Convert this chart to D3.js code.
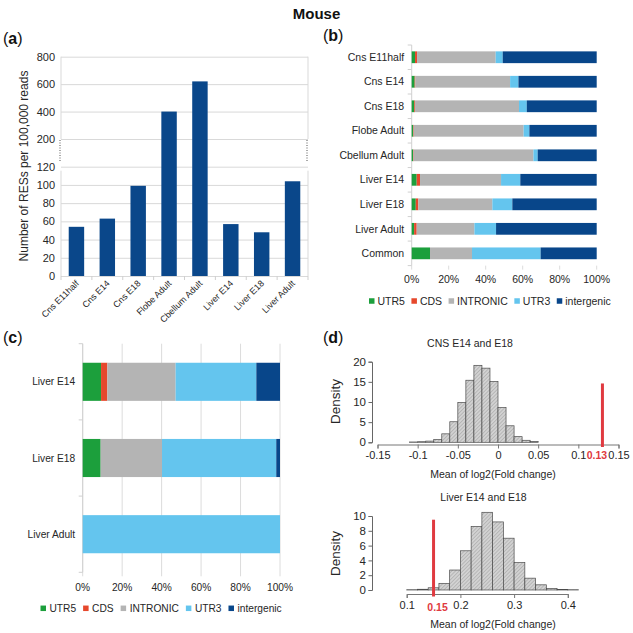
<!DOCTYPE html>
<html><head><meta charset="utf-8">
<script src="https://cdn.jsdelivr.net/npm/d3@7"></script>
<style>
html,body{margin:0;padding:0;background:#fff;}
svg{display:block;}
text{font-family:"Liberation Sans", Arial, sans-serif;}
</style></head><body>
<svg id="chart" width="633" height="633"></svg>
<script>
// ---------------- DATA ----------------
const figureTitle = "Mouse";

// (a)
const aCategories = ["Cns E11half","Cns E14","Cns E18","Flobe Adult","Cbellum Adult","Liver E14","Liver E18","Liver Adult"];
const aValues = [54, 63, 99, 400, 620, 57, 48, 104];
const aTicks = [0,20,40,60,80,100,120,200,400,600,800];
const aYLabel = "Number of RESs per 100,000 reads";

// region types (b, c)
const regionTypes = ["UTR5","CDS","INTRONIC","UTR3","intergenic"];
const regionColors = ["#1c9f3c","#e6482c","#b4b4b4","#64c5ee","#08468a"];
const pctTicks = [0,20,40,60,80,100];

// (b)
const bCategories = ["Cns E11half","Cns E14","Cns E18","Flobe Adult","Cbellum Adult","Liver E14","Liver E18","Liver Adult","Common"];
const bUTR5       = [1.8, 1.6, 1.4, 0.8, 0.7, 2.7, 2.2, 1.3, 9.9];
const bCDS        = [1.1, 0.4, 0.4, 0.3, 0.3, 1.8, 1.4, 1.4, 0.0];
const bINTRONIC   = [42.5, 51.2, 56.2, 59.4, 64.8, 43.8, 40.0, 31.2, 22.7];
const bUTR3       = [3.8, 4.5, 4.2, 3.1, 2.3, 10.4, 10.8, 11.7, 37.1];
const bIntergenic = [50.8, 42.3, 37.8, 36.4, 31.9, 41.3, 45.6, 54.4, 30.3];

// (c)
const cCategories = ["Liver E14","Liver E18","Liver Adult"];
const cUTR5       = [9.3, 9.1, 0];
const cCDS        = [3.2, 0, 0];
const cINTRONIC   = [34.6, 31.1, 0];
const cUTR3       = [40.9, 57.9, 100];
const cIntergenic = [12.0, 1.9, 0];

// (d) top
const cnsTitle = "CNS E14 and E18";
const cnsBinStarts = [-0.11,-0.10,-0.09,-0.08,-0.07,-0.06,-0.05,-0.04,-0.03,-0.02,-0.01,0.00,0.01,0.02,0.03,0.04];
const cnsBinWidth = 0.01;
const cnsDensity = [0.08,0.15,0.3,0.7,2.1,5.1,9.9,15.4,19.1,18.4,15.1,8.6,4.1,1.4,0.5,0.2];
const cnsXTicks = [-0.15,-0.1,-0.05,0,0.05,0.1,0.15];
const cnsYTicks = [0,5,10,15,20];
const cnsObserved = 0.13, cnsObservedLabel = "0.13", cnsObservedHeight = 14.6;

// (d) bottom
const liverTitle = "Liver E14 and E18";
const liverBinStarts = [0.10,0.12,0.14,0.16,0.18,0.20,0.22,0.24,0.26,0.28,0.30,0.32,0.34,0.36,0.38,0.40];
const liverBinWidth = 0.02;
const liverDensity = [0.04,0.1,0.3,0.9,2.7,5.3,8.6,10.5,9.2,7.0,3.7,1.6,0.7,0.2,0.08,0.04];
const liverXTicks = [0.1,0.2,0.3,0.4];
const liverYTicks = [0,2,4,6,8,10];
const liverObserved = 0.15, liverObservedLabel = "0.15", liverObservedHeight = 9.5;

const dXLabel = "Mean of log2(Fold change)";
const dYLabel = "Density";

// ---------------- DRAWING ----------------
const svg = d3.select("#chart");
const FONT = '"Liberation Sans", Arial, sans-serif';
const TXT = "#262626";

svg.append("text").attr("x", 316.5).attr("y", 18.5).attr("text-anchor","middle")
  .attr("font-size", 15).attr("font-weight","bold").attr("fill","#111").text(figureTitle);

function panelLabel(x, y, letter){
  const t = svg.append("text").attr("x", x).attr("y", y).attr("font-size", 16).attr("fill","#111");
  t.append("tspan").text("(");
  t.append("tspan").attr("font-weight","bold").text(letter);
  t.append("tspan").text(")");
}
panelLabel(3, 43.5, "a");
panelLabel(323, 41, "b");
panelLabel(3, 342.5, "c");
panelLabel(323, 342.5, "d");

// ===== (a) =====
(function(){
  const g = svg.append("g");
  const x0 = 61, x1 = 308;
  const y = d3.scaleLinear().domain([0,120,200,800]).range([276,166.7,139,56.7]);
  const x = d3.scaleBand().domain(aCategories).range([x0,x1]).paddingInner(0.5).paddingOuter(0.25);

  const ax = g.append("g").attr("transform", `translate(${x0},0)`)
    .call(d3.axisLeft(y).tickValues(aTicks).tickSize(-(x1-x0)).tickPadding(6).tickFormat(d3.format("d")));
  ax.select(".domain").remove();
  ax.selectAll("line").attr("stroke","#d9d9d9");
  ax.selectAll("text").attr("font-size",11).attr("fill",TXT).attr("font-family",FONT);

  [x0, x1].forEach(xx=>{
    g.append("line").attr("x1",xx).attr("x2",xx).attr("y1",y(800)).attr("y2",y(200)).attr("stroke","#d9d9d9");
    g.append("line").attr("x1",xx).attr("x2",xx).attr("y1",y(120)+4).attr("y2",y(0)).attr("stroke","#d9d9d9");
    g.append("line").attr("x1",xx-1).attr("x2",xx-1).attr("y1",y(200)+1).attr("y2",y(120)-5)
      .attr("stroke","#555").attr("stroke-dasharray","1,1.5");
  });
  d3.range(aCategories.length+1).forEach(i=>{
    const xx = x0 + i*x.step();
    g.append("line").attr("x1",xx).attr("x2",xx).attr("y1",y(0)).attr("y2",y(0)+4).attr("stroke","#cfcfcf");
  });

  g.selectAll("rect.bar").data(aValues).join("rect")
    .attr("x",(d,i)=>x(aCategories[i])).attr("width",x.bandwidth())
    .attr("y",d=>y(d)).attr("height",d=>y(0)-y(d)).attr("fill","#0a478a");

  g.selectAll("text.cat").data(aCategories).join("text")
    .attr("transform", d=>`translate(${x(d)+x.bandwidth()/2+3},${y(0)+8}) rotate(-45)`)
    .attr("text-anchor","end").attr("font-size",9).attr("fill",TXT).text(d=>d);

  g.append("text").attr("transform",`translate(28,166) rotate(-90)`).attr("text-anchor","middle")
    .attr("font-size",12).attr("fill",TXT).text(aYLabel);
})();

// ===== stacked bar helper =====
function stackedPanel(cfg){
  const g = svg.append("g");
  const table = cfg.categories.map((c,i)=>{
    const o = {category:c};
    regionTypes.forEach((k,j)=>{ o[k] = cfg.series[j][i]; });
    return o;
  });
  const x = d3.scaleLinear().domain([0,100]).range([cfg.x0,cfg.x1]);
  const y = d3.scaleBand().domain(cfg.categories).range([cfg.y0,cfg.y1]).paddingInner(cfg.pad).paddingOuter(cfg.pad/2);

  if (cfg.grid){
    g.selectAll("line.grid").data(pctTicks).join("line")
      .attr("x1",d=>x(d)).attr("x2",d=>x(d)).attr("y1",cfg.y0).attr("y2",cfg.y1+4).attr("stroke","#dcdcdc");
  } else {
    g.selectAll("line.grid").data(pctTicks).join("line")
      .attr("x1",d=>x(d)).attr("x2",d=>x(d)).attr("y1",cfg.y1).attr("y2",cfg.y1+4).attr("stroke","#dcdcdc");
  }
  g.append("line").attr("x1",cfg.x0).attr("x2",cfg.x0).attr("y1",cfg.y0).attr("y2",cfg.y1).attr("stroke","#d0d0d0");
  d3.range(cfg.categories.length+1).forEach(i=>{
    const yy = cfg.y0 + i*y.step();
    g.append("line").attr("x1",cfg.x0-4).attr("x2",cfg.x0).attr("y1",yy).attr("y2",yy).attr("stroke","#d0d0d0");
  });

  const stacked = d3.stack().keys(regionTypes)(table);
  stacked.forEach((layer,j)=>{
    g.selectAll(null).data(layer).join("rect")
      .attr("x",d=>x(d[0])).attr("width",d=>Math.max(0,x(d[1])-x(d[0])))
      .attr("y",d=>y(d.data.category)).attr("height",y.bandwidth())
      .attr("fill",regionColors[j]);
  });

  g.selectAll("text.cat").data(cfg.categories).join("text")
    .attr("x",cfg.x0-7.5).attr("y",d=>y(d)+y.bandwidth()/2).attr("dy","0.35em")
    .attr("text-anchor","end").attr("font-size",cfg.fs).attr("fill",TXT).text(d=>d);

  g.selectAll("text.pct").data(pctTicks).join("text")
    .attr("x",d=>x(d)).attr("y",cfg.tickY).attr("text-anchor","middle")
    .attr("font-size",cfg.fs).attr("fill",TXT).text(d=>d+"%");

  let lx = cfg.legX;
  regionTypes.forEach((k,j)=>{
    g.append("rect").attr("x",lx).attr("y",cfg.legY-2.75).attr("width",5.5).attr("height",5.5).attr("fill",regionColors[j]);
    const t = g.append("text").attr("x",lx+5.5+cfg.legGap).attr("y",cfg.legY).attr("dy","0.36em")
      .attr("font-size",cfg.fs).attr("fill",TXT).text(k);
    lx += 5.5 + cfg.legGap + t.node().getComputedTextLength() + cfg.legSpace;
  });
}

stackedPanel({categories:bCategories, series:[bUTR5,bCDS,bINTRONIC,bUTR3,bIntergenic],
  x0:411.7, x1:596.7, y0:45, y1:265.6, pad:0.52, grid:false, fs:10.5, tickY:283,
  legX:369, legY:301, legGap:3, legSpace:6.5});

stackedPanel({categories:cCategories, series:[cUTR5,cCDS,cINTRONIC,cUTR3,cIntergenic],
  x0:82.7, x1:280, y0:343.7, y1:572.3, pad:0.5, grid:true, fs:10.2, tickY:590.5,
  legX:40.5, legY:608.3, legGap:3.5, legSpace:7});

// ===== (d) histograms =====
const defs = svg.append("defs");
const pat = defs.append("pattern").attr("id","hatch").attr("patternUnits","userSpaceOnUse")
  .attr("width",2.6).attr("height",2.6).attr("patternTransform","rotate(45)");
pat.append("rect").attr("width",2.6).attr("height",2.6).attr("fill","#d2d2d2");
pat.append("line").attr("x1",0).attr("y1",0).attr("x2",0).attr("y2",2.6).attr("stroke","#8f8f8f").attr("stroke-width",0.8);

function histPanel(cfg){
  const g = svg.append("g");
  const x = d3.scaleLinear().domain(cfg.xDom).range(cfg.xRange);
  const y = d3.scaleLinear().domain(cfg.yDom).range(cfg.yRange);

  g.append("text").attr("x",cfg.titleX).attr("y",cfg.titleY).attr("text-anchor","middle")
    .attr("font-size",10.5).attr("fill",TXT).text(cfg.title);

  g.selectAll("rect.bin").data(cfg.density).join("rect")
    .attr("x",(d,i)=>x(cfg.starts[i])).attr("width",(d,i)=>x(cfg.starts[i]+cfg.width)-x(cfg.starts[i]))
    .attr("y",d=>y(d)).attr("height",d=>y(0)-y(d))
    .attr("fill","url(#hatch)").attr("stroke","#4a4a4a").attr("stroke-width",0.7);

  const ya = g.append("g").attr("transform",`translate(${cfg.yAxisX},0)`)
    .call(d3.axisLeft(y).tickValues(cfg.yTicks).tickSize(3.5).tickPadding(2.5).tickFormat(d3.format("d")));
  ya.select(".domain").attr("stroke","#666");
  ya.selectAll("line").attr("stroke","#666");
  ya.selectAll("text").attr("font-size",11.5).attr("fill",TXT).attr("font-family",FONT);

  const xa = g.append("g").attr("transform",`translate(0,${cfg.xAxisY})`)
    .call(d3.axisBottom(x).tickValues(cfg.xTicks).tickSize(4).tickPadding(3).tickFormat(d=>String(+d.toFixed(2))));
  xa.select(".domain").attr("stroke","#777");
  xa.selectAll("line").attr("stroke","#777");
  xa.selectAll("text").attr("font-size",11).attr("fill",TXT).attr("font-family",FONT);

  g.append("line").attr("x1",x(cfg.obs)).attr("x2",x(cfg.obs))
    .attr("y1",y(cfg.obsH)).attr("y2",cfg.xAxisY+2.5)
    .attr("stroke","#e03a40").attr("stroke-width",3);
  g.append("text").attr("x",x(cfg.obs)+cfg.obsLabelDx).attr("y",cfg.obsLabelY).attr("text-anchor","middle")
    .attr("font-size",10.5).attr("font-weight","bold").attr("fill","#e03a40").text(cfg.obsLabel);

  g.append("text").attr("x",cfg.xLabelX).attr("y",cfg.xLabelY).attr("text-anchor","middle")
    .attr("font-size",10.5).attr("fill",TXT).text(dXLabel);
  g.append("text").attr("transform",`translate(339.5,${cfg.yLabelY}) rotate(-90)`).attr("text-anchor","middle")
    .attr("font-size",13.5).attr("fill",TXT).text(dYLabel);
}

histPanel({title:cnsTitle, titleX:470, titleY:346.5,
  starts:cnsBinStarts, width:cnsBinWidth, density:cnsDensity,
  xDom:[-0.15,0.15], xRange:[377.5,618.5], yDom:[0,20], yRange:[442.3,361.7],
  xTicks:cnsXTicks, yTicks:cnsYTicks, yAxisX:372, xAxisY:444.5,
  obs:cnsObserved, obsH:cnsObservedHeight, obsLabel:cnsObservedLabel, obsLabelDx:-5.5, obsLabelY:459,
  xLabelX:493, xLabelY:477.5, yLabelY:401.5});

histPanel({title:liverTitle, titleX:483.5, titleY:500.5,
  starts:liverBinStarts, width:liverBinWidth, density:liverDensity,
  xDom:[0.1,0.4], xRange:[406.7,567.8], yDom:[0,10], yRange:[590,516],
  xTicks:liverXTicks, yTicks:liverYTicks, yAxisX:372, xAxisY:594,
  obs:liverObserved, obsH:liverObservedHeight, obsLabel:liverObservedLabel, obsLabelDx:4, obsLabelY:611,
  xLabelX:493, xLabelY:628, yLabelY:553.5});
</script>
</body></html>
